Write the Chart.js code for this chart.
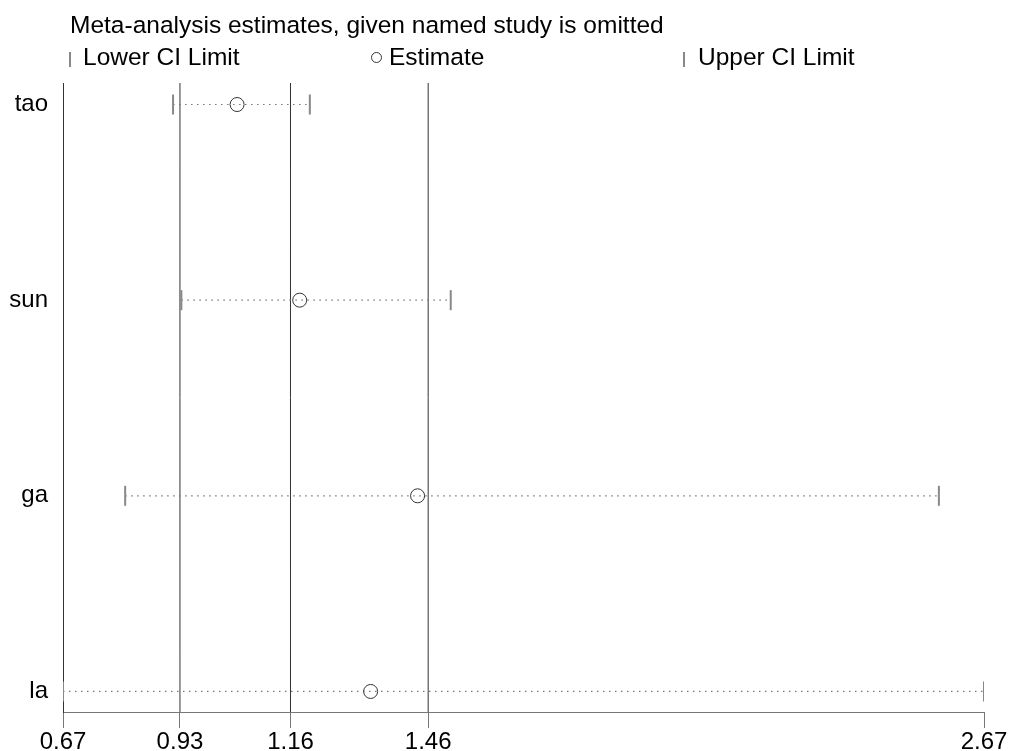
<!DOCTYPE html>
<html>
<head>
<meta charset="utf-8">
<script src="https://cdn.jsdelivr.net/npm/chart.js@4/dist/chart.umd.min.js"></script>
<style>
  html, body { margin: 0; padding: 0; background: #fff; }
  #wrap { position: relative; width: 1018px; height: 751px; font-family: "Liberation Sans", Arial, sans-serif; color: #000; }
  #chart { position: absolute; left: 0; top: 0; }
  .txt { position: absolute; font-size: 24.5px; line-height: 24px; white-space: nowrap; }
  .bar { position: absolute; width: 2px; height: 15px; background: #888; }
  .circ { position: absolute; width: 11px; height: 11px; border: 1px solid #333; border-radius: 50%; box-sizing: border-box; }
</style>
</head>
<body>
<div id="wrap">
  <canvas id="chart" width="1018" height="751"></canvas>
  <div class="txt" id="title" style="left:70px; top:13px;"></div>
  <div class="bar" style="left:69px; top:52px;"></div>
  <div class="txt" id="lg0" style="left:83px; top:45px;"></div>
  <div class="circ" style="left:371px; top:52px;"></div>
  <div class="txt" id="lg1" style="left:389px; top:45px;"></div>
  <div class="bar" style="left:683px; top:52px;"></div>
  <div class="txt" id="lg2" style="left:698px; top:45px;"></div>
</div>
<script>
const titleText = 'Meta-analysis estimates, given named study is omitted';
const studies = ['tao', 'sun', 'ga', 'la'];
const lowerCI = [0.909, 0.927, 0.805, 0.670];
const estimate = [1.048, 1.184, 1.440, 1.338];
const upperCI = [1.206, 1.512, 2.572, 2.670];
const overall = [0.924, 1.164, 1.463];   // overall lower CI, estimate, upper CI
const xMin = 0.67, xMax = 2.67;
const tickLabels = ['0.67', '0.93', '1.16', '1.46', '2.67'];
const seriesNames = ['Lower CI Limit', 'Estimate', 'Upper CI Limit'];

document.getElementById('title').textContent = titleText;
document.getElementById('lg0').textContent = seriesNames[0];
document.getElementById('lg1').textContent = seriesNames[1];
document.getElementById('lg2').textContent = seriesNames[2];

const yMin = 0.895, yMax = 4.11;
const rowY = i => studies.length - i;
const tickValues = [xMin, ...overall, xMax];

const datasets = [];
// lower CI caps
datasets.push({
  label: seriesNames[0],
  data: studies.map((s, i) => ({ x: lowerCI[i], y: rowY(i) })),
  pointStyle: 'line', rotation: 90, pointRadius: 10, borderWidth: 2,
  borderColor: '#888', backgroundColor: '#888', showLine: false
});
// estimates
datasets.push({
  label: seriesNames[1],
  data: studies.map((s, i) => ({ x: estimate[i], y: rowY(i) })),
  pointStyle: 'circle', pointRadius: 7, borderWidth: 1,
  borderColor: '#333', backgroundColor: 'rgba(0,0,0,0)', showLine: false
});
// upper CI caps
datasets.push({
  label: seriesNames[2],
  data: studies.map((s, i) => ({ x: upperCI[i], y: rowY(i) })),
  pointStyle: 'line', rotation: 90, pointRadius: 10, borderWidth: 2,
  borderColor: '#888', backgroundColor: '#888', showLine: false
});
// dotted CI lines
studies.forEach((s, i) => {
  datasets.push({
    label: 'ci-' + s,
    data: [{ x: lowerCI[i], y: rowY(i) }, { x: upperCI[i], y: rowY(i) }],
    showLine: true, pointRadius: 0, borderWidth: 1.2,
    borderColor: '#777', borderDash: [1.5, 4.5]
  });
});
// overall reference lines
overall.forEach((v, k) => {
  datasets.push({
    label: 'ref-' + k,
    data: [{ x: v, y: yMin }, { x: v, y: yMax }],
    showLine: true, pointRadius: 0, borderWidth: 1,
    borderColor: '#333'
  });
});

const font = { family: '"Liberation Sans", Arial, sans-serif', size: 24 };

new Chart(document.getElementById('chart'), {
  type: 'scatter',
  data: { datasets },
  options: {
    responsive: false,
    animation: false,
    layout: { padding: { top: 83, right: 34, bottom: 0, left: 0 } },
    plugins: { legend: { display: false }, tooltip: { enabled: false }, title: { display: false } },
    scales: {
      x: {
        type: 'linear', min: xMin, max: xMax,
        afterBuildTicks: sc => { sc.ticks = tickValues.map(v => ({ value: v })); },
        afterFit: sc => { sc.height = 39; },
        ticks: {
          font, color: '#000', padding: 0, maxRotation: 0, autoSkip: false,
          callback: (v, idx) => tickLabels[idx]
        },
        grid: { drawOnChartArea: false, drawTicks: true, tickLength: 16, color: '#777', lineWidth: 1 },
        border: { display: true, color: '#777', width: 1 }
      },
      y: {
        type: 'linear', min: yMin, max: yMax,
        afterBuildTicks: sc => { sc.ticks = studies.map((s, i) => ({ value: rowY(i) })); },
        afterFit: sc => { sc.width = 63; },
        ticks: {
          font, color: '#000', padding: 15, autoSkip: false,
          callback: v => studies[studies.length - Math.round(v)]
        },
        grid: { display: false, drawTicks: false },
        border: { display: true, color: '#333', width: 1 }
      }
    }
  }
});
</script>
</body>
</html>
